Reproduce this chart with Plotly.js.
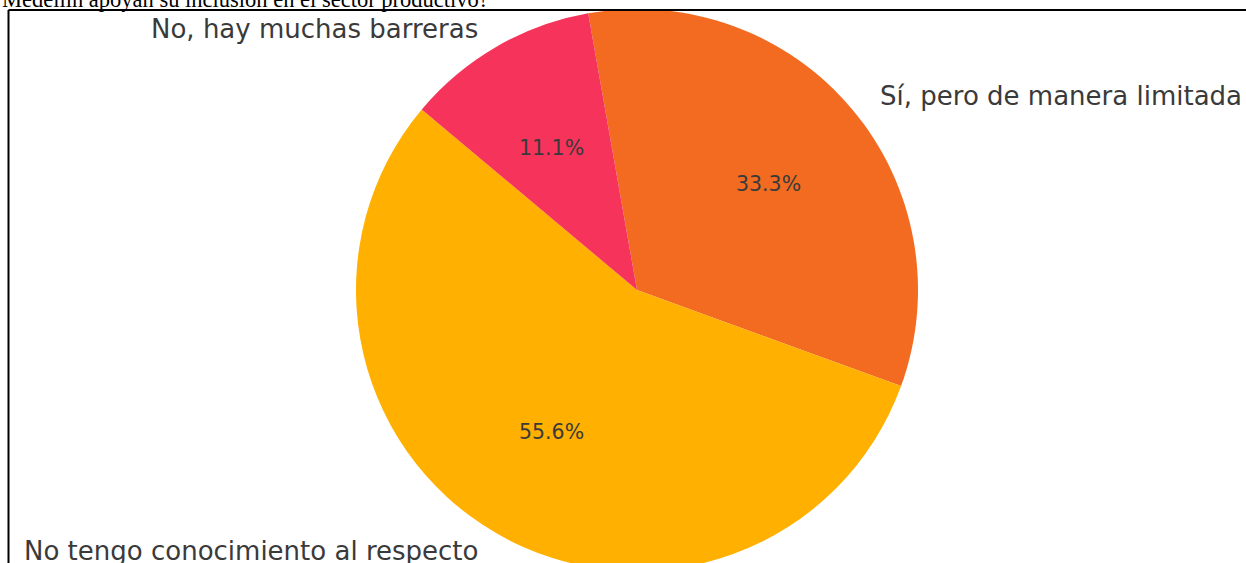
<!DOCTYPE html>
<html>
<head>
<meta charset="utf-8">
<script src="https://cdn.plot.ly/plotly-3.0.1.min.js"></script>
<style>
html, body { margin: 0; padding: 0; width: 1246px; height: 563px; overflow: hidden; background: #fff; }
#chart { width: 1246px; height: 620px; }
</style>
</head>
<body>
<div id="chart"></div>
<script>
// ---- data ----
const categories = ["Sí, pero de manera limitada", "No tengo conocimiento al respecto", "No, hay muchas barreras"];
const counts = [3, 5, 1];
const colors = ["#F26B21", "#FFB000", "#F6335A"];
const questionTail = "Medellín apoyan su inclusión en el sector productivo?";

// ---- layout constants (pixels) ----
const W = 1246, H = 620;
const cx = 637, cy = 290, r = 281;
const rxLab = 286, ryLab = 274; // label ellipse of reference
const startAngle = 100; // math degrees, slices go clockwise
const textColor = "#3a3a3a";

const px = x => x / W;
const py = y => 1 - y / H;

const total = counts.reduce((a, b) => a + b, 0);
const annotations = [];
let ang = startAngle;
counts.forEach((v, i) => {
  const span = v / total * 360;
  const mid = (ang - span / 2) * Math.PI / 180;
  ang -= span;
  const c = Math.cos(mid), s = Math.sin(mid);
  // outer label
  annotations.push({
    text: categories[i], showarrow: false, xref: "paper", yref: "paper",
    x: px(cx + 1.1 * rxLab * c), y: py(cy - 1.1 * ryLab * s),
    xanchor: c < 0 ? "right" : "left", yanchor: "middle",
    font: { family: "DejaVu Sans", size: 26, color: textColor }
  });
  // percent label
  annotations.push({
    text: (v / total * 100).toFixed(1) + "%", showarrow: false, xref: "paper", yref: "paper",
    x: px(cx + 0.6 * rxLab * c), y: py(cy - 0.6 * ryLab * s),
    xanchor: "center", yanchor: "middle",
    font: { family: "DejaVu Sans", size: 20.5, color: textColor }
  });
});

annotations.push({
  text: questionTail, showarrow: false, xref: "paper", yref: "paper",
  x: px(0), y: py(14), xanchor: "left", yanchor: "bottom",
  font: { family: "Liberation Serif", size: 22.5, color: "#000" }
});

const trace = {
  type: "pie",
  labels: categories,
  values: counts,
  sort: false,
  direction: "clockwise",
  rotation: 90 - startAngle,
  marker: { colors: colors, line: { width: 0 } },
  textinfo: "none",
  hoverinfo: "label+percent",
  showlegend: false,
  domain: { x: [px(cx - r), px(cx + r)], y: [py(cy + r), py(cy - r)] }
};

const layout = {
  width: W, height: H,
  margin: { l: 0, r: 0, t: 0, b: 0 },
  paper_bgcolor: "#ffffff",
  showlegend: false,
  annotations: annotations,
  shapes: [
    { type: "line", xref: "paper", yref: "paper", x0: px(8.5), x1: px(8.5), y0: py(10), y1: py(H), line: { color: "#000", width: 2 } },
    { type: "line", xref: "paper", yref: "paper", x0: px(8.5), x1: px(W), y0: py(10), y1: py(10), line: { color: "#000", width: 2 } }
  ]
};

Plotly.newPlot("chart", [trace], layout, { displayModeBar: false, staticPlot: true });
</script>
</body>
</html>
